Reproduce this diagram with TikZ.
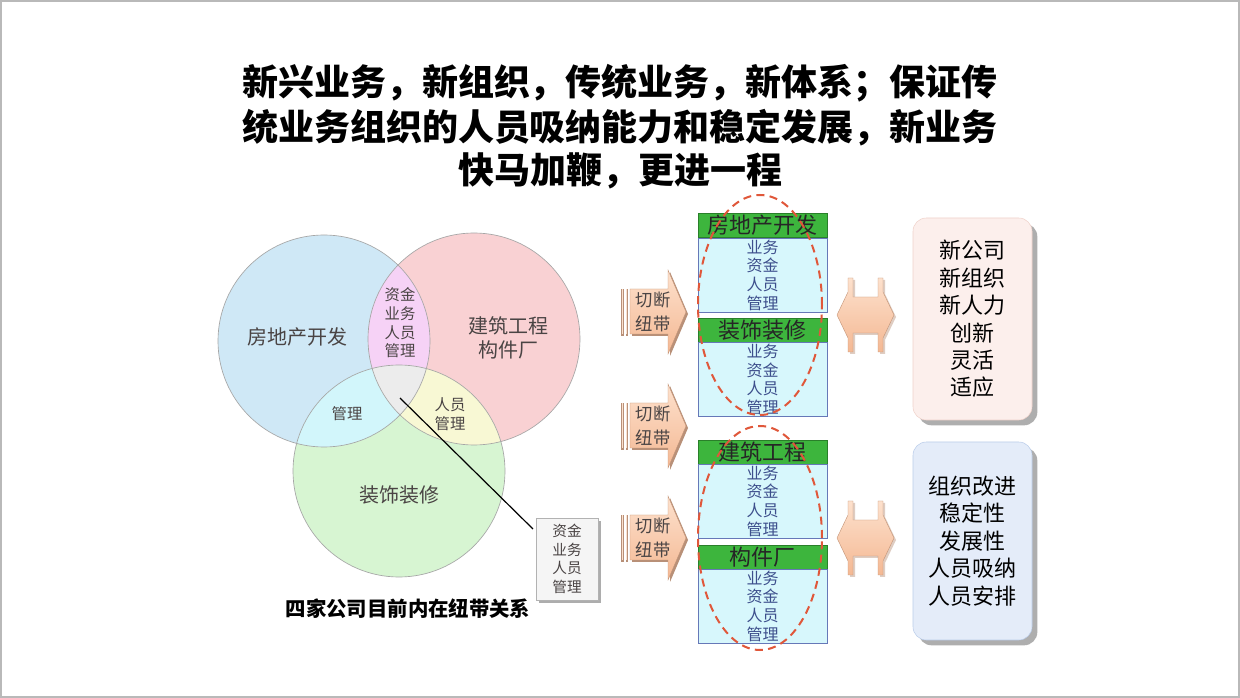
\documentclass[tikz,border=0pt]{standalone}
\usepackage{fontspec}
\newfontfamily\cjk{Noto Sans CJK SC}
\usetikzlibrary{shapes.geometric,shadows}
\definecolor{vblue}{HTML}{CFE8F6}
\definecolor{vred}{HTML}{F9D1D3}
\definecolor{vgreen}{HTML}{D7F5D2}
\definecolor{ipink}{HTML}{F6D2F6}
\definecolor{icyan}{HTML}{D2F6FB}
\definecolor{iyellow}{HTML}{F8F8D4}
\definecolor{igray}{HTML}{ECECEC}
\definecolor{vtext}{HTML}{4A4444}
\definecolor{hdrgreen}{HTML}{3DB53D}
\definecolor{hdrborder}{HTML}{2A7F2A}
\definecolor{bodycyan}{HTML}{D7F7FC}
\definecolor{bodyblue}{HTML}{6678B8}
\definecolor{bodytext}{HTML}{3D4F8C}
\definecolor{reddash}{HTML}{E0573A}
\definecolor{peachL}{HTML}{FDE1CD}
\definecolor{peachD}{HTML}{F4B893}
\definecolor{peachS}{HTML}{B89078}
\definecolor{pinkbox}{HTML}{FCEFEC}
\definecolor{pinkline}{HTML}{F0D2CA}
\definecolor{bluebox}{HTML}{E4ECF9}
\definecolor{blueline}{HTML}{BACDEA}
\tikzset{
  titletext/.style={font=\cjk\bfseries\fontsize{27}{32}\selectfont, inner sep=0},
  vlabel/.style={font=\cjk\fontsize{15}{18}\selectfont, text=vtext, inner sep=0, align=center},
  vsmall/.style={font=\cjk\fontsize{11.5}{14}\selectfont, text=vtext, inner sep=0, align=center},
  vcircle/.style={draw=gray!70, line width=0.5pt},
  graybox/.style={draw=gray!60, fill=gray!8, minimum width=46.5pt, minimum height=61.5pt,
     inner sep=0, align=center, font=\cjk\fontsize{11}{13.9}\selectfont, text=vtext,
     drop shadow={shadow xshift=2pt, shadow yshift=-2pt, fill=gray!80, opacity=0.8}},
  hdr/.style={draw=hdrborder, fill=hdrgreen, minimum width=96.75pt, minimum height=18pt,
     inner sep=0, font=\cjk\fontsize{16.5}{18}\selectfont, text=black!85},
  bodybox/.style={draw=bodyblue, fill=bodycyan, minimum width=96.75pt, minimum height=55.5pt,
     inner sep=0, align=center, font=\cjk\fontsize{12}{14}\selectfont, text=bodytext},
  dashell/.style={ellipse, draw=reddash, line width=1.5pt, dash pattern=on 6pt off 4pt,
     minimum width=93pt, inner sep=0},
  cuttext/.style={font=\cjk\fontsize{13}{18}\selectfont, text=vtext, align=center, inner sep=0},
  peach/.style={top color=peachL, bottom color=peachD, draw=peachD!80!black, line width=0.3pt},
  rbox/.style={rounded corners=10pt, minimum width=89.25pt, inner sep=0, align=center,
     font=\cjk\fontsize{16.5}{20.6}\selectfont, text=black,
     drop shadow={shadow xshift=4pt, shadow yshift=-4pt, fill=gray!70, opacity=0.9}},
}
\begin{document}
\begin{tikzpicture}[x=0.75pt,y=-0.75pt]
\useasboundingbox (0,0) rectangle (1240,698);
\fill[white] (0,0) rectangle (1240,698);
\draw[gray!55, line width=0.8pt] (1,1) rectangle (1239,697);

% Title
\node[titletext] (t1) at (620,83) {新兴业务，新组织，传统业务，新体系；保证传};
\node[titletext] (t2) at (620,128) {统业务组织的人员吸纳能力和稳定发展，新业务};
\node[titletext] (t3) at (620,171) {快马加鞭，更进一程};

% Venn diagram
\coordinate (cA) at (324,341);
\coordinate (cB) at (474,339);
\coordinate (cC) at (399,471);
\fill[vblue] (cA) circle[radius=79.5pt];
\fill[vred] (cB) circle[radius=79.5pt];
\fill[vgreen] (cC) circle[radius=79.5pt];
\begin{scope}
  \clip (cA) circle[radius=79.5pt];
  \fill[ipink] (cB) circle[radius=79.5pt];
  \fill[icyan] (cC) circle[radius=79.5pt];
\end{scope}
\begin{scope}
  \clip (cB) circle[radius=79.5pt];
  \fill[iyellow] (cC) circle[radius=79.5pt];
\end{scope}
\begin{scope}
  \clip (cA) circle[radius=79.5pt];
  \clip (cB) circle[radius=79.5pt];
  \fill[igray] (cC) circle[radius=79.5pt];
\end{scope}
\draw[vcircle] (cA) circle[radius=79.5pt];
\draw[vcircle] (cB) circle[radius=79.5pt];
\draw[vcircle] (cC) circle[radius=79.5pt];

\node[vlabel] (lA) at (297,337) {房地产开发};
\node[vlabel] (lB) at (508,338) {建筑工程\\构件厂};
\node[vlabel] (lC) at (399,495) {装饰装修};
\node[vsmall] (lAB) at (400,323) {资金\\业务\\人员\\管理};
\node[vsmall] (lAC) at (347,414) {管理};
\node[vsmall] (lBC) at (450,414) {人员\\管理};

\node[graybox] (gb) at (567,559) {资金\\业务\\人员\\管理};
\coordinate (ls) at (400,398);
\coordinate (le) at (533,529);
\draw[black, line width=0.9pt] (ls) -- (le);

\node[font=\cjk\bfseries\fontsize{15.3}{18}\selectfont, inner sep=0] (cap) at (408,609) {四家公司目前内在纽带关系};

% Cut arrows
\foreach \cy/\nm in {312/a1,426/a2,538/a3}{
  \fill[peachS] (632,\cy-21) -- (670,\cy-21) -- (670,\cy-40) -- (688,\cy+2) -- (670,\cy+44) -- (670,\cy+24) -- (632,\cy+24) -- cycle;
  \path[peach] (630,\cy-23) -- (668,\cy-23) -- (668,\cy-42) -- (686,\cy) -- (668,\cy+42) -- (668,\cy+22) -- (630,\cy+22) -- cycle;
  \fill[peachS] (621,\cy-23) rectangle (623.5,\cy+24);
  \fill[peachS] (625.5,\cy-23) rectangle (628,\cy+24);
  \fill[peachL] (621.5,\cy-23) rectangle (622.8,\cy+22);
  \fill[peachL] (626,\cy-23) rectangle (627.3,\cy+22);
  \node[cuttext] (\nm) at (653,\cy) {切断\\纽带};
}

% Stacked boxes
\node[hdr] (h1) at (762.5,225.5) {房地产开发};
\node[bodybox] (b1) at (762.5,275) {业务\\资金\\人员\\管理};
\node[hdr] (h2) at (762.5,330.5) {装饰装修};
\node[bodybox] (b2) at (762.5,379.5) {业务\\资金\\人员\\管理};
\node[hdr] (h3) at (762.5,452.5) {建筑工程};
\node[bodybox] (b3) at (762.5,501) {业务\\资金\\人员\\管理};
\node[hdr] (h4) at (762.5,557.5) {构件厂};
\node[bodybox] (b4) at (762.5,606) {业务\\资金\\人员\\管理};

\node[dashell, minimum height=165pt] (e1) at (760,305) {};
\node[dashell, minimum height=168pt] (e2) at (760,538) {};

% Double arrows
\foreach \cy in {315,538}{
  \fill[peachS!45] (839,\cy+2) -- (850,\cy-21) -- (850,\cy-35) -- (855,\cy-35) -- (855,\cy-16) -- (880,\cy-16) -- (880,\cy-35) -- (885,\cy-35) -- (885,\cy-21) -- (896,\cy+2) -- (885,\cy+25) -- (885,\cy+39) -- (880,\cy+39) -- (880,\cy+20) -- (855,\cy+20) -- (855,\cy+39) -- (850,\cy+39) -- (850,\cy+25) -- cycle;
  \path[peach] (837,\cy) -- (848,\cy-23) -- (848,\cy-37) -- (853,\cy-37) -- (853,\cy-18) -- (878,\cy-18) -- (878,\cy-37) -- (883,\cy-37) -- (883,\cy-23) -- (894,\cy) -- (883,\cy+23) -- (883,\cy+37) -- (878,\cy+37) -- (878,\cy+18) -- (853,\cy+18) -- (853,\cy+37) -- (848,\cy+37) -- (848,\cy+23) -- cycle;
}

% Right boxes
\node[rbox, fill=pinkbox, draw=pinkline, minimum height=151.5pt] (ra) at (972.5,319) {新公司\\新组织\\新人力\\创新\\灵活\\适应};
\node[rbox, fill=bluebox, draw=blueline, minimum height=148.5pt] (rb) at (972.5,541) {组织改进\\稳定性\\发展性\\人员吸纳\\人员安排};
\end{tikzpicture}
\end{document}
